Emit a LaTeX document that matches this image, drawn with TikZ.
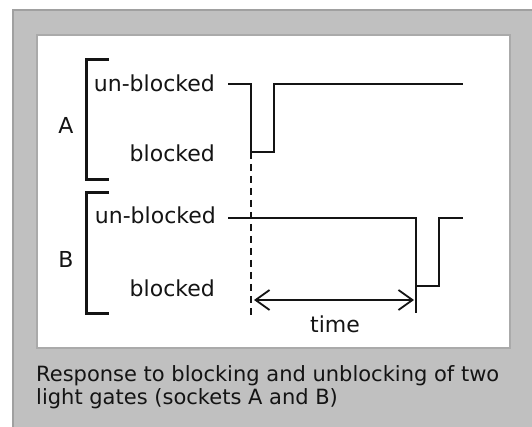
\documentclass[tikz,border=0pt]{standalone}
\usepackage{fontspec}
\setmainfont{DejaVu Sans}
\usetikzlibrary{arrows.meta}
\definecolor{panelgray}{HTML}{C0C0C0}
\definecolor{panelborder}{HTML}{A0A0A0}
\definecolor{ink}{HTML}{141414}
\begin{document}
\begin{tikzpicture}[x=1pt,y=-1pt,
  lbl/.style={inner sep=0pt,text=ink,font=\fontsize{22}{26}\selectfont},
  captiontext/.style={inner sep=0pt,text=ink,font=\fontsize{21}{24}\selectfont,align=left},
  wave/.style={line width=2.6pt,draw=ink},
  brk/.style={line width=3pt,draw=ink},
  dashline/.style={line width=2.6pt,draw=ink,dash pattern=on 7pt off 5pt},
  timearrow/.style={line width=1.8pt,draw=ink,{Straight Barb[length=14pt,width=20pt]}-{Straight Barb[length=14pt,width=20pt]}}]
\useasboundingbox (0,0) rectangle (532,427);
\fill[white] (0,0) rectangle (532,427);
\draw[fill=panelgray,draw=panelborder,line width=2pt] (13,10) rectangle (540,440);
\draw[fill=white,draw=panelborder!90,line width=2.5pt] (37,35) rectangle (510,348);
% brackets
\draw[brk] (109,60) -- (86,60) -- (86,180) -- (109,180);
\draw[brk] (109,193) -- (86,193) -- (86,313) -- (109,313);
% labels
\node[lbl,anchor=base] (A) at (66,134) {A};
\node[lbl,anchor=base] (B) at (66,268) {B};
\node[lbl,anchor=base east] (ua) at (215,92) {un-blocked};
\node[lbl,anchor=base east] (ba) at (215,162) {blocked};
\node[lbl,anchor=base east] (ub) at (216,224) {un-blocked};
\node[lbl,anchor=base east] (bb) at (215,296) {blocked};
% signal A
\coordinate (a0) at (228,84);
\coordinate (a1) at (251,84);
\coordinate (a2) at (251,152);
\coordinate (a3) at (274,152);
\coordinate (a4) at (274,84);
\coordinate (a5) at (463,84);
\draw[wave] (a0) -- (a1) -- (a2) -- (a3) -- (a4) -- (a5);
% signal B
\coordinate (b0) at (228,218);
\coordinate (b1) at (416,218);
\coordinate (b2) at (416,313);
\coordinate (b3) at (416,286);
\coordinate (b4) at (439,286);
\coordinate (b5) at (439,218);
\coordinate (b6) at (463,218);
\draw[wave] (b0) -- (b1) -- (b2);
\draw[wave] (b3) -- (b4) -- (b5) -- (b6);
% dashed marker
\coordinate (d1) at (251,318);
\draw[dashline] (a2) -- (d1);
% time arrow
\coordinate (t0) at (254,300);
\coordinate (t1) at (414,300);
\draw[timearrow] (t0) -- (t1);
\node[lbl,anchor=base] (time) at (335,332) {time};
% caption
\node[captiontext,anchor=base west] (c1) at (36,381) {Response to blocking and unblocking of two};
\node[captiontext,anchor=base west] (c2) at (36,404) {light gates (sockets A and B)};
\end{tikzpicture}
\end{document}
